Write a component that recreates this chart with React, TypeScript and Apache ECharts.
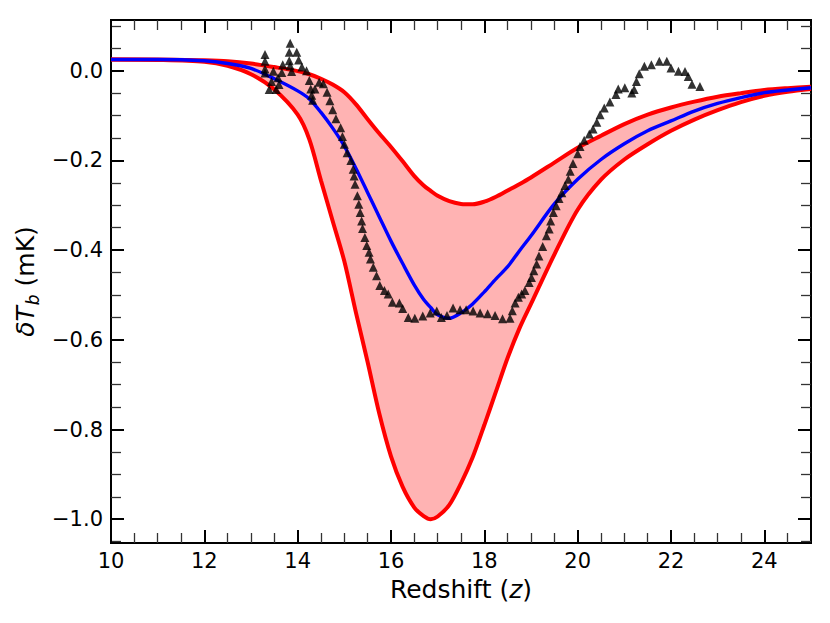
import React, { useEffect, useRef } from "react";
import * as echarts from "echarts";

// ---- data ----
const zGrid = [10, 11, 12, 12.5, 13, 13.5, 14, 14.25, 14.5, 14.75, 15, 15.25, 15.5, 15.75, 16, 16.25, 16.5, 16.7, 16.85, 17, 17.25, 17.5, 17.75, 18, 18.25, 18.5, 18.75, 19, 19.5, 20, 20.5, 21, 21.5, 22, 22.5, 23, 23.5, 24, 24.5, 25];

const upperCurve = [0.025, 0.025, 0.023, 0.021, 0.016, 0.008, -0.001, -0.008, -0.018, -0.031, -0.048, -0.075, -0.108, -0.14, -0.17, -0.202, -0.235, -0.256, -0.268, -0.279, -0.291, -0.297, -0.298, -0.292, -0.281, -0.267, -0.253, -0.238, -0.205, -0.172, -0.145, -0.119, -0.098, -0.082, -0.069, -0.058, -0.05, -0.043, -0.039, -0.036];

const meanCurve = [0.025, 0.025, 0.022, 0.016, 0.005, -0.018, -0.045, -0.063, -0.093, -0.128, -0.168, -0.218, -0.272, -0.326, -0.38, -0.43, -0.478, -0.51, -0.528, -0.544, -0.552, -0.54, -0.52, -0.493, -0.464, -0.437, -0.402, -0.368, -0.297, -0.242, -0.198, -0.163, -0.134, -0.112, -0.09, -0.073, -0.06, -0.049, -0.043, -0.038];

const lowerCurve = [0.025, 0.024, 0.02, 0.011, -0.008, -0.042, -0.098, -0.153, -0.245, -0.335, -0.425, -0.54, -0.65, -0.765, -0.86, -0.928, -0.974, -0.993, -1.0, -0.994, -0.968, -0.92, -0.862, -0.79, -0.715, -0.64, -0.575, -0.52, -0.41, -0.31, -0.243, -0.198, -0.164, -0.134, -0.109, -0.088, -0.07, -0.056, -0.047, -0.041];

const obsZ = [13.3, 13.3, 13.3, 13.3, 13.39, 13.44, 13.48, 13.54, 13.6, 13.58, 13.66, 13.68, 13.82, 13.82, 13.84, 13.84, 13.98, 14.02, 13.87, 14.09, 14.19, 14.25, 14.28, 14.37, 14.3, 14.32, 14.46, 14.55, 14.63, 14.69, 14.75, 14.82, 14.92, 14.96, 15.0, 15.06, 15.14, 15.19, 15.21, 15.23, 15.28, 15.31, 15.34, 15.37, 15.39, 15.44, 15.48, 15.53, 15.56, 15.62, 15.69, 15.76, 15.86, 15.94, 16.03, 16.18, 16.25, 16.37, 16.51, 16.68, 16.84, 16.98, 17.08, 17.2, 17.33, 17.48, 17.61, 17.76, 17.91, 18.07, 18.23, 18.39, 18.55, 18.6, 18.66, 18.73, 18.8, 18.87, 18.96, 19.01, 19.06, 19.12, 19.17, 19.25, 19.33, 19.39, 19.42, 19.48, 19.54, 19.6, 19.66, 19.73, 19.8, 19.84, 19.9, 20.0, 20.05, 20.14, 20.25, 20.33, 20.41, 20.48, 20.57, 20.69, 20.82, 20.87, 21.01, 21.16, 21.21, 21.26, 21.32, 21.43, 21.58, 21.75, 21.91, 22.0, 22.16, 22.3, 22.37, 22.45, 22.62];

const obsT = [0.036, 0.021, 0.004, -0.005, -0.042, -0.024, -0.001, -0.042, -0.031, -0.016, -0.004, 0.013, 0.022, 0.041, 0.061, 0.011, 0.041, 0.024, -0.002, 0.008, 0.0, -0.022, -0.041, -0.041, -0.055, -0.066, -0.026, -0.029, -0.048, -0.067, -0.087, -0.107, -0.127, -0.147, -0.164, -0.183, -0.2, -0.22, -0.235, -0.253, -0.279, -0.298, -0.316, -0.335, -0.352, -0.372, -0.39, -0.405, -0.42, -0.438, -0.457, -0.479, -0.49, -0.498, -0.516, -0.518, -0.53, -0.55, -0.552, -0.547, -0.54, -0.536, -0.55, -0.546, -0.529, -0.533, -0.533, -0.536, -0.54, -0.542, -0.546, -0.553, -0.552, -0.535, -0.518, -0.505, -0.498, -0.49, -0.472, -0.461, -0.446, -0.431, -0.413, -0.392, -0.368, -0.353, -0.335, -0.316, -0.301, -0.285, -0.272, -0.256, -0.242, -0.224, -0.207, -0.185, -0.169, -0.155, -0.141, -0.13, -0.115, -0.098, -0.083, -0.07, -0.053, -0.041, -0.038, -0.05, -0.042, -0.024, -0.007, 0.01, 0.013, 0.021, 0.021, 0.006, -0.001, -0.002, -0.013, -0.03, -0.035];

const xMajorTicks = [10, 12, 14, 16, 18, 20, 22, 24];
const xMinorTicks = [10.5, 11, 11.5, 12.5, 13, 13.5, 14.5, 15, 15.5, 16.5, 17, 17.5, 18.5, 19, 19.5, 20.5, 21, 21.5, 22.5, 23, 23.5, 24.5];
const yMajorTicks = [-1.0, -0.8, -0.6, -0.4, -0.2, 0.0];
const yMinorTicks = [-1.05, -0.95, -0.9, -0.85, -0.75, -0.7, -0.65, -0.55, -0.5, -0.45, -0.35, -0.3, -0.25, -0.15, -0.1, -0.05, 0.05, 0.1];

const X_MIN = 10;
const X_MAX = 25;
const Y_MIN = -1.053;
const Y_MAX = 0.113;

const FONT = "DejaVu Sans";

function makeAxis(kind: "x" | "y", pos: string, major: boolean, withLabels: boolean, extra: any = {}) {
  const values = kind === "x" ? (major ? xMajorTicks : xMinorTicks) : major ? yMajorTicks : yMinorTicks;
  return {
    type: "value",
    position: pos,
    min: kind === "x" ? X_MIN : Y_MIN,
    max: kind === "x" ? X_MAX : Y_MAX,
    axisLine: { show: true, onZero: false, lineStyle: { color: "#000", width: 2 } },
    axisTick: {
      show: true,
      inside: true,
      length: major ? 13 : 10,
      customValues: values,
      lineStyle: { color: major ? "#000" : "#333", width: major ? 2 : 1.3 },
    },
    axisLabel: withLabels
      ? {
          show: true,
          customValues: values,
          fontSize: 21,
          fontFamily: FONT,
          color: "#000",
          margin: kind === "x" ? 7 : 8,
          formatter: (v: number) => {
            if (kind === "x") return String(v);
            if (Math.abs(v) < 1e-9) return "0.0";
            return (v < 0 ? "\u2212" : "") + Math.abs(v).toFixed(1);
          },
        }
      : { show: false },
    splitLine: { show: false },
    minorTick: { show: false },
    minorSplitLine: { show: false },
    ...extra,
  };
}

export default function App() {
  const ref = useRef<HTMLDivElement>(null);

  useEffect(() => {
    document.body.style.margin = "0";
    if (!ref.current) return;
    const chart = echarts.init(ref.current, undefined, { renderer: "svg" });

    const upperData = zGrid.map((z, i) => [z, upperCurve[i]]);
    const lowerData = zGrid.map((z, i) => [z, lowerCurve[i]]);
    const meanData = zGrid.map((z, i) => [z, meanCurve[i]]);
    const obsData = obsZ.map((z, i) => [z, obsT[i]]);

    const option: any = {
      animation: false,
      backgroundColor: "#fff",
      grid: { left: 111, right: 19, top: 20, bottom: 80, containLabel: false },
      xAxis: [
        makeAxis("x", "bottom", true, true, {
          name: "{n|Redshift (}{i|z}{n|)}",
          nameLocation: "middle",
          nameGap: 34,
          nameTextStyle: {
            rich: {
              n: { fontSize: 25, fontFamily: FONT, color: "#000" },
              i: { fontSize: 25, fontFamily: FONT, fontStyle: "italic", color: "#000" },
            },
          },
        }),
        makeAxis("x", "bottom", false, false),
        makeAxis("x", "top", true, false),
        makeAxis("x", "top", false, false),
      ],
      yAxis: [
        makeAxis("y", "left", true, true, {
          name: "{i|δT}{s|b}{n| (mK)}",
          nameLocation: "middle",
          nameGap: 64,
          nameTextStyle: {
            rich: {
              i: { fontSize: 25, fontFamily: FONT, fontStyle: "italic", color: "#000", lineHeight: 32, verticalAlign: "middle" },
              s: { fontSize: 17, fontFamily: FONT, fontStyle: "italic", color: "#000", lineHeight: 32, verticalAlign: "bottom", padding: [0, 0, 0, 1] },
              n: { fontSize: 25, fontFamily: FONT, color: "#000", lineHeight: 32, verticalAlign: "middle" },
            },
          },
        }),
        makeAxis("y", "left", false, false),
        makeAxis("y", "right", true, false),
        makeAxis("y", "right", false, false),
      ],
      series: [
        {
          type: "custom",
          coordinateSystem: "cartesian2d",
          xAxisIndex: 0,
          yAxisIndex: 0,
          data: [[zGrid[0], upperCurve[0]]],
          silent: true,
          z: 1,
          renderItem: (_params: any, api: any) => {
            const top = zGrid.map((z, i) => api.coord([z, upperCurve[i]]));
            const bottom = zGrid.map((z, i) => api.coord([z, lowerCurve[i]])).reverse();
            return {
              type: "polygon",
              shape: { points: top.concat(bottom) },
              style: { fill: "#ffb3b3", stroke: "none" },
            };
          },
        },
        {
          type: "line",
          data: upperData,
          showSymbol: false,
          smooth: 0.3,
          lineStyle: { color: "#ff0000", width: 4 },
          z: 2,
        },
        {
          type: "line",
          data: lowerData,
          showSymbol: false,
          smooth: 0.3,
          lineStyle: { color: "#ff0000", width: 4 },
          z: 2,
        },
        {
          type: "line",
          data: meanData,
          showSymbol: false,
          smooth: 0.3,
          lineStyle: { color: "#0000ff", width: 3.4 },
          z: 3,
        },
        {
          type: "scatter",
          data: obsData,
          symbol: "triangle",
          symbolSize: 9,
          itemStyle: { color: "#000" },
          z: 4,
        },
      ],
    };

    chart.setOption(option);
    return () => chart.dispose();
  }, []);

  return <div ref={ref} style={{ width: 830, height: 623 }} />;
}
